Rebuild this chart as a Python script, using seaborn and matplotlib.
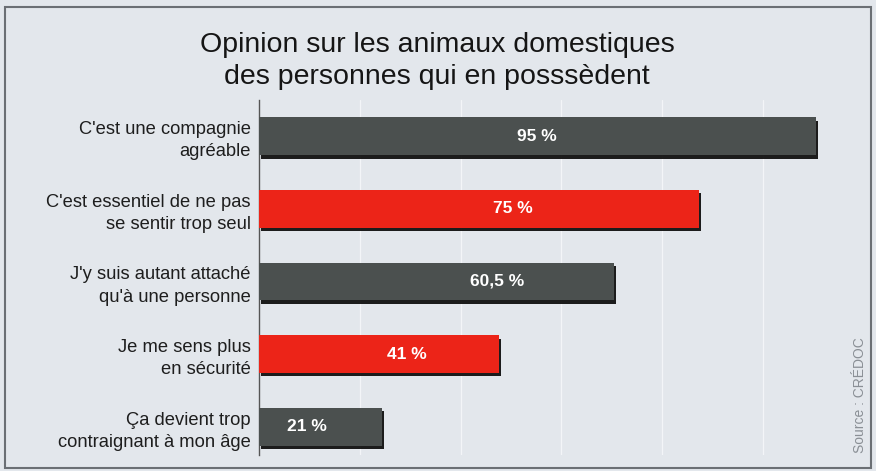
import matplotlib
matplotlib.use("Agg")
import matplotlib.pyplot as plt
import matplotlib.patheffects as pe
from matplotlib.patches import Rectangle
import seaborn as sns
import pandas as pd
import numpy as np

# ---- data ----
categories = [
    "C'est une compagnie\nagréable",
    "C'est essentiel de ne pas\nse sentir trop seul",
    "J'y suis autant attaché\nqu'à une personne",
    "Je me sens plus\nen sécurité",
    "Ça devient trop\ncontraignant à mon âge",
]
values = [95, 75, 60.5, 41, 21]
value_labels = ["95 %", "75 %", "60,5 %", "41 %", "21 %"]
title = "Opinion sur les animaux domestiques\ndes personnes qui en posssèdent"
source = "Source : CRÉDOC"

# ---- style / layout ----
DARK = "#4b504f"
RED = "#ec2418"
bar_colors = [DARK, RED, DARK, RED, DARK]
label_x = [47.5, 43.3, 40.6, 25.3, 8.2]   # label positions (layout)
BG = "#e3e7ec"

sns.set_theme(style="white")
plt.rcParams["font.family"] = ["Liberation Sans", "DejaVu Sans"]

df = pd.DataFrame({"cat": categories, "val": values})

fig = plt.figure(figsize=(8.76, 4.71), dpi=100)
fig.patch.set_facecolor(BG)
ax = fig.add_axes([259 / 876, 1 - 455 / 471, (845 - 259) / 876, 355 / 471])
ax.set_facecolor(BG)

sns.barplot(data=df, x="val", y="cat", hue="cat", palette=bar_colors,
            legend=False, orient="h", width=0.52, ax=ax, saturation=1,
            zorder=3)

for p in ax.patches:
    p.set_path_effects([pe.SimplePatchShadow(offset=(1.5, -2.5), shadow_rgbFace="#111111", alpha=0.95),
                        pe.Normal()])
    p.set_edgecolor("none")

ax.set_xlim(0, 100)
ax.set_ylim(4.39, -0.5)
ax.xaxis.set_major_locator(matplotlib.ticker.MultipleLocator(17.2))
ax.grid(axis="x", color="#f3f5f8", lw=0.9, zorder=0)
ax.set_axisbelow(True)
ax.set_xticklabels([])
ax.tick_params(axis="x", length=0)
ax.tick_params(axis="y", length=0, pad=6, labelsize=13.2, labelcolor="#1e1e1e")
for t in ax.get_yticklabels():
    t.set_multialignment("right")
    t.set_linespacing(1.4)
ax.set_xlabel("")
ax.set_ylabel("")
for s in ["top", "right", "bottom"]:
    ax.spines[s].set_visible(False)
ax.spines["left"].set_color("#555555")
ax.spines["left"].set_linewidth(1.0)

for i, (lab, lx) in enumerate(zip(value_labels, label_x)):
    ax.text(lx, i, lab, color="white", fontsize=12.5, fontweight="bold",
            ha="center", va="center", zorder=5,
            family=["Liberation Sans Narrow", "Liberation Sans", "DejaVu Sans"])

fig.text(437 / 876, 1 - 61 / 471, title, ha="center", va="center",
         fontsize=20.5, color="#151515", linespacing=1.28)
fig.text(860 / 876, 1 - 395 / 471, source, rotation=90, ha="center",
         va="center", fontsize=10, color="#8a8f95")

fig.add_artist(Rectangle((5 / 876, 3 / 471), 866 / 876, 461 / 471,
                         transform=fig.transFigure, fill=False,
                         edgecolor="#6b6f74", lw=1.5))

fig.savefig("out.png", dpi=100, facecolor=fig.get_facecolor())
